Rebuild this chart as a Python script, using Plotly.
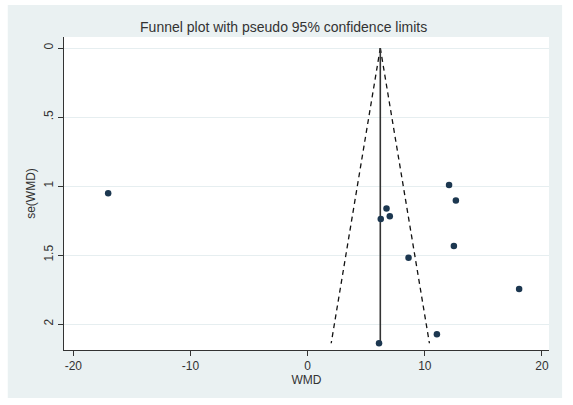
import plotly.graph_objects as go

# study estimates (WMD) and their standard errors
wmd = [12.07, 12.65, 6.73, 7.01, 6.24, 12.48, 8.61, 18.05, 11.03, 6.09, -17.03]
se_wmd = [0.993, 1.104, 1.162, 1.219, 1.239, 1.435, 1.520, 1.746, 2.073, 2.139, 1.053]
pooled = 6.2
x_ticks = [-20, -10, 0, 10, 20]
x_ticktext = ["-20", "-10", "0", "10", "20"]
y_ticks = [0, 0.5, 1, 1.5, 2]
y_ticktext = ["0", ".5", "1", "1.5", "2"]

se_max = max(se_wmd)
lo_line = [pooled, pooled - 1.96 * se_max]
hi_line = [pooled, pooled + 1.96 * se_max]

fig = go.Figure()
fig.add_trace(go.Scatter(x=lo_line, y=[0, se_max], mode="lines",
                         line=dict(color="#111111", width=1.3, dash="5px,4px"), hoverinfo="skip"))
fig.add_trace(go.Scatter(x=hi_line, y=[0, se_max], mode="lines",
                         line=dict(color="#111111", width=1.3, dash="5px,4px"), hoverinfo="skip"))
fig.add_trace(go.Scatter(x=[pooled, pooled], y=[0, se_max], mode="lines",
                         line=dict(color="#333333", width=1.6), hoverinfo="skip"))
fig.add_trace(go.Scatter(x=wmd, y=se_wmd, mode="markers",
                         marker=dict(color="#1c3750", size=6.5, symbol="circle")))

bg = "#EAF1F2"
fig.update_layout(
    width=573, height=405,
    margin=dict(l=64, r=24, t=37, b=55),
    paper_bgcolor="white",
    plot_bgcolor="white",
    showlegend=False,
    font=dict(family="Liberation Sans, Arial, sans-serif", color="#333333", size=12),
    title=dict(text="Funnel plot with pseudo 95% confidence limits",
               x=0.495, xanchor="center", y=0.933, yanchor="middle",
               font=dict(size=14, color="#333333")),
    shapes=[
        dict(type="rect", xref="paper", yref="paper", x0=-0.116, x1=1.027, y0=-0.153, y1=1.102,
             fillcolor=bg, line=dict(width=0), layer="below"),
        dict(type="rect", xref="paper", yref="paper", x0=0, x1=1, y0=0, y1=1,
             fillcolor="white", line=dict(width=0), layer="below"),
    ],
)
fig.update_xaxes(range=[-20.8, 20.6], tickvals=x_ticks, ticktext=x_ticktext, ticks="outside", ticklen=5,
                 tickcolor="#333333", showgrid=False, showline=True, linecolor="#333333",
                 linewidth=1, zeroline=False, mirror=False,
                 title=dict(text="WMD", standoff=2, font=dict(size=12)),
                 tickfont=dict(size=12))
fig.update_yaxes(range=[2.188, -0.08], tickvals=y_ticks, ticktext=y_ticktext, tickangle=-90,
                 ticks="outside", ticklen=5, tickcolor="#333333",
                 showgrid=True, gridcolor="#E6EEF0", gridwidth=1,
                 showline=True, linecolor="#333333", linewidth=1, zeroline=False,
                 title=dict(text="se(WMD)", standoff=4, font=dict(size=12)),
                 tickfont=dict(size=12))

fig.write_html("out.html")
